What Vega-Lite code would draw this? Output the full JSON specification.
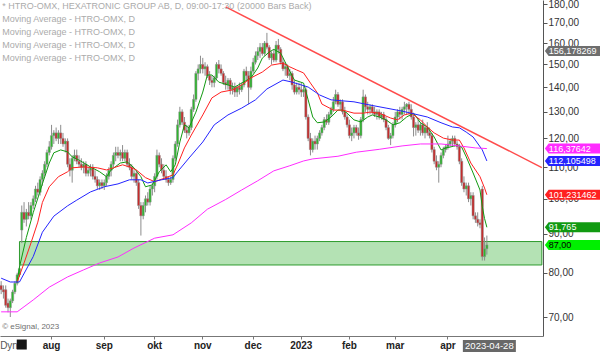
{
"$schema":"https://vega.github.io/schema/vega-lite/v6.json",
"width":543,"height":336,
"autosize":{"type":"none"},
"padding":{"left":0,"top":0,"right":57,"bottom":17},
"background":"white",
"config":{"font":"Liberation Sans","view":{"stroke":null},"axis":{"labelFont":"Liberation Sans","grid":false}},
"datasets":{
"candles":[
{"date":"2022-06-30","open":77,"high":78,"low":75,"close":76},
{"date":"2022-07-01","open":76,"high":77,"low":74,"close":75.5},
{"date":"2022-07-04","open":76,"high":77,"low":72,"close":72.5},
{"date":"2022-07-05","open":73,"high":74,"low":71,"close":72},
{"date":"2022-07-06","open":72,"high":74,"low":70,"close":73.5},
{"date":"2022-07-07","open":73.5,"high":76,"low":73,"close":75.5},
{"date":"2022-07-08","open":75.5,"high":78,"low":75,"close":77.5},
{"date":"2022-07-11","open":77.5,"high":80,"low":77,"close":79.5},
{"date":"2022-07-12","open":79.5,"high":82,"low":79,"close":81},
{"date":"2022-07-13","open":91,"high":98,"low":87.5,"close":96},
{"date":"2022-07-14","open":96,"high":99,"low":93,"close":94},
{"date":"2022-07-15","open":94,"high":97,"low":92,"close":96},
{"date":"2022-07-18","open":96,"high":99,"low":94,"close":95},
{"date":"2022-07-19","open":95,"high":99,"low":94,"close":98},
{"date":"2022-07-20","open":98,"high":101,"low":97,"close":100},
{"date":"2022-07-21","open":100,"high":104,"low":99,"close":103},
{"date":"2022-07-22","open":103,"high":105,"low":101,"close":102},
{"date":"2022-07-25","open":102,"high":107,"low":101,"close":106},
{"date":"2022-07-26","open":106,"high":109,"low":104,"close":108},
{"date":"2022-07-27","open":108,"high":112,"low":107,"close":111},
{"date":"2022-07-28","open":111,"high":116,"low":110,"close":115},
{"date":"2022-07-29","open":115,"high":119,"low":114,"close":117},
{"date":"2022-08-01","open":117,"high":125,"low":116,"close":121},
{"date":"2022-08-02","open":121,"high":123,"low":118,"close":122},
{"date":"2022-08-03","open":122,"high":124,"low":119,"close":120},
{"date":"2022-08-04","open":120,"high":123,"low":118,"close":122},
{"date":"2022-08-05","open":122,"high":125,"low":118,"close":120},
{"date":"2022-08-08","open":120,"high":122,"low":117,"close":118},
{"date":"2022-08-09","open":118,"high":120,"low":115,"close":119},
{"date":"2022-08-10","open":119,"high":120,"low":110,"close":111},
{"date":"2022-08-11","open":111,"high":113,"low":107,"close":109},
{"date":"2022-08-12","open":109,"high":114,"low":105,"close":113},
{"date":"2022-08-15","open":113,"high":116,"low":112,"close":114},
{"date":"2022-08-16","open":114,"high":116,"low":111,"close":112},
{"date":"2022-08-17","open":112,"high":114,"low":110,"close":111},
{"date":"2022-08-18","open":111,"high":113,"low":109,"close":110},
{"date":"2022-08-19","open":110,"high":112,"low":108,"close":111},
{"date":"2022-08-22","open":111,"high":112,"low":107,"close":108},
{"date":"2022-08-23","open":108,"high":110,"low":107,"close":109},
{"date":"2022-08-24","open":109,"high":111,"low":107,"close":110},
{"date":"2022-08-25","open":110,"high":111,"low":106,"close":107},
{"date":"2022-08-26","open":107,"high":109,"low":105,"close":106},
{"date":"2022-08-29","open":106,"high":107,"low":103,"close":104},
{"date":"2022-08-30","open":104,"high":106,"low":102.7,"close":105},
{"date":"2022-08-31","open":105,"high":106,"low":103,"close":104},
{"date":"2022-09-01","open":104,"high":106,"low":102.7,"close":105},
{"date":"2022-09-02","open":105,"high":108,"low":104,"close":107},
{"date":"2022-09-05","open":107,"high":110,"low":106,"close":109},
{"date":"2022-09-06","open":109,"high":112,"low":107,"close":111},
{"date":"2022-09-07","open":111,"high":115,"low":110,"close":114},
{"date":"2022-09-08","open":114,"high":117,"low":112,"close":115},
{"date":"2022-09-09","open":115,"high":117,"low":113,"close":114},
{"date":"2022-09-12","open":114,"high":116,"low":112,"close":115},
{"date":"2022-09-13","open":115,"high":117.6,"low":112,"close":113},
{"date":"2022-09-14","open":113,"high":116,"low":112,"close":115},
{"date":"2022-09-15","open":115,"high":116,"low":110,"close":111},
{"date":"2022-09-16","open":111,"high":113,"low":109,"close":110},
{"date":"2022-09-19","open":110,"high":111,"low":106,"close":107},
{"date":"2022-09-20","open":107,"high":109,"low":105,"close":108},
{"date":"2022-09-21","open":108,"high":109,"low":104,"close":105},
{"date":"2022-09-22","open":105,"high":106,"low":97,"close":98},
{"date":"2022-09-23","open":98,"high":99,"low":89.5,"close":95},
{"date":"2022-09-26","open":95,"high":99,"low":94,"close":98},
{"date":"2022-09-27","open":98,"high":101,"low":96,"close":100},
{"date":"2022-09-28","open":100,"high":102,"low":98,"close":99},
{"date":"2022-09-29","open":99,"high":104,"low":98,"close":103},
{"date":"2022-09-30","open":103,"high":105,"low":101,"close":104},
{"date":"2022-10-03","open":104,"high":108,"low":102,"close":107},
{"date":"2022-10-04","open":107,"high":116,"low":106,"close":114},
{"date":"2022-10-05","open":114,"high":115,"low":110,"close":111},
{"date":"2022-10-06","open":111,"high":113,"low":108,"close":109},
{"date":"2022-10-07","open":109,"high":111,"low":106,"close":107},
{"date":"2022-10-10","open":107,"high":109,"low":105,"close":106},
{"date":"2022-10-11","open":106,"high":107,"low":104,"close":105},
{"date":"2022-10-12","open":105,"high":107,"low":104.3,"close":106},
{"date":"2022-10-13","open":106,"high":114,"low":105,"close":113},
{"date":"2022-10-14","open":113,"high":119,"low":112,"close":118},
{"date":"2022-10-17","open":118,"high":127,"low":117,"close":125},
{"date":"2022-10-18","open":125,"high":132,"low":124,"close":130},
{"date":"2022-10-19","open":130,"high":131,"low":125,"close":126},
{"date":"2022-10-20","open":126,"high":128,"low":122,"close":123},
{"date":"2022-10-21","open":123,"high":125,"low":120,"close":122},
{"date":"2022-10-24","open":122,"high":125,"low":121,"close":124},
{"date":"2022-10-25","open":124,"high":132,"low":123,"close":131},
{"date":"2022-10-26","open":131,"high":137,"low":130,"close":135},
{"date":"2022-10-27","open":135,"high":147,"low":134,"close":146},
{"date":"2022-10-28","open":146,"high":150,"low":143,"close":148},
{"date":"2022-10-31","open":148,"high":154,"low":146,"close":150},
{"date":"2022-11-01","open":150,"high":153,"low":146,"close":148},
{"date":"2022-11-02","open":148,"high":151,"low":145,"close":149},
{"date":"2022-11-03","open":149,"high":150,"low":144,"close":145},
{"date":"2022-11-04","open":145,"high":147,"low":141,"close":143},
{"date":"2022-11-07","open":143,"high":145,"low":140,"close":142},
{"date":"2022-11-08","open":142,"high":145,"low":140,"close":144},
{"date":"2022-11-09","open":144,"high":151,"low":143,"close":150},
{"date":"2022-11-10","open":150,"high":152,"low":146,"close":148},
{"date":"2022-11-11","open":148,"high":150,"low":145,"close":146},
{"date":"2022-11-14","open":146,"high":147,"low":141,"close":142},
{"date":"2022-11-15","open":142,"high":145,"low":139,"close":141},
{"date":"2022-11-16","open":141,"high":144,"low":139,"close":143},
{"date":"2022-11-17","open":143,"high":144,"low":137,"close":139},
{"date":"2022-11-18","open":139,"high":142,"low":137,"close":140},
{"date":"2022-11-21","open":140,"high":142,"low":136,"close":138},
{"date":"2022-11-22","open":138,"high":141,"low":136,"close":140},
{"date":"2022-11-23","open":140,"high":142,"low":137,"close":139},
{"date":"2022-11-24","open":139,"high":142,"low":138,"close":141},
{"date":"2022-11-25","open":141,"high":148,"low":140,"close":147},
{"date":"2022-11-28","open":147,"high":149,"low":143,"close":145},
{"date":"2022-11-29","open":145,"high":147,"low":133,"close":140},
{"date":"2022-11-30","open":140,"high":149,"low":139,"close":147},
{"date":"2022-12-01","open":147,"high":153,"low":146,"close":151},
{"date":"2022-12-02","open":151,"high":156,"low":150,"close":154},
{"date":"2022-12-05","open":154,"high":158,"low":152,"close":156},
{"date":"2022-12-06","open":156,"high":160,"low":153,"close":158},
{"date":"2022-12-07","open":158,"high":160,"low":154,"close":155},
{"date":"2022-12-08","open":155,"high":161,"low":154,"close":160},
{"date":"2022-12-09","open":160,"high":165,"low":157,"close":158},
{"date":"2022-12-12","open":158,"high":159,"low":152,"close":153},
{"date":"2022-12-13","open":153,"high":156,"low":150,"close":155},
{"date":"2022-12-14","open":155,"high":157,"low":151,"close":152},
{"date":"2022-12-15","open":152,"high":161,"low":151,"close":159},
{"date":"2022-12-16","open":159,"high":162,"low":155,"close":157},
{"date":"2022-12-19","open":157,"high":158,"low":150,"close":151},
{"date":"2022-12-20","open":151,"high":153,"low":147,"close":148},
{"date":"2022-12-21","open":148,"high":151,"low":145,"close":149},
{"date":"2022-12-22","open":149,"high":150,"low":144,"close":145},
{"date":"2022-12-23","open":145,"high":148,"low":143,"close":146},
{"date":"2022-12-27","open":146,"high":147,"low":139,"close":141},
{"date":"2022-12-28","open":141,"high":143,"low":137,"close":138},
{"date":"2022-12-29","open":138,"high":142,"low":137,"close":140},
{"date":"2022-12-30","open":140,"high":142,"low":137,"close":139},
{"date":"2023-01-02","open":139,"high":142,"low":136,"close":138},
{"date":"2023-01-03","open":138,"high":141,"low":136,"close":139},
{"date":"2023-01-04","open":139,"high":140,"low":127,"close":128},
{"date":"2023-01-05","open":128,"high":129,"low":119,"close":120},
{"date":"2023-01-09","open":120,"high":122,"low":114,"close":116},
{"date":"2023-01-10","open":116,"high":120,"low":115,"close":119},
{"date":"2023-01-11","open":119,"high":121,"low":116,"close":118},
{"date":"2023-01-12","open":118,"high":121,"low":116,"close":120},
{"date":"2023-01-13","open":120,"high":123,"low":119,"close":122},
{"date":"2023-01-16","open":122,"high":125,"low":121,"close":124},
{"date":"2023-01-17","open":124,"high":128,"low":123,"close":127},
{"date":"2023-01-18","open":127,"high":129,"low":125,"close":126},
{"date":"2023-01-19","open":126,"high":130,"low":125,"close":129},
{"date":"2023-01-20","open":129,"high":132,"low":128,"close":131},
{"date":"2023-01-23","open":131,"high":136,"low":130,"close":134},
{"date":"2023-01-24","open":134,"high":139,"low":133,"close":137},
{"date":"2023-01-25","open":137,"high":138,"low":132,"close":133},
{"date":"2023-01-26","open":133,"high":135,"low":131,"close":134},
{"date":"2023-01-27","open":134,"high":135,"low":129,"close":130},
{"date":"2023-01-30","open":130,"high":132,"low":127,"close":128},
{"date":"2023-01-31","open":128,"high":129,"low":124,"close":125},
{"date":"2023-02-01","open":125,"high":127,"low":120,"close":121},
{"date":"2023-02-02","open":121,"high":124,"low":119,"close":122},
{"date":"2023-02-03","open":122,"high":125,"low":120,"close":124},
{"date":"2023-02-06","open":124,"high":125,"low":121,"close":122},
{"date":"2023-02-07","open":122,"high":124,"low":119.5,"close":121},
{"date":"2023-02-08","open":121,"high":128,"low":120,"close":127},
{"date":"2023-02-09","open":127,"high":139,"low":126,"close":136},
{"date":"2023-02-10","open":136,"high":137,"low":130,"close":132},
{"date":"2023-02-13","open":132,"high":134,"low":129,"close":131},
{"date":"2023-02-14","open":131,"high":133,"low":129,"close":132},
{"date":"2023-02-15","open":132,"high":133,"low":129,"close":130},
{"date":"2023-02-16","open":130,"high":132,"low":128,"close":129},
{"date":"2023-02-17","open":129,"high":131,"low":127,"close":130},
{"date":"2023-02-20","open":130,"high":131,"low":127,"close":128},
{"date":"2023-02-21","open":128,"high":130,"low":127,"close":129},
{"date":"2023-02-22","open":129,"high":130,"low":126,"close":127},
{"date":"2023-02-23","open":127,"high":128,"low":123,"close":124},
{"date":"2023-02-24","open":124,"high":125,"low":119.5,"close":120},
{"date":"2023-02-27","open":120,"high":122,"low":117.6,"close":121},
{"date":"2023-02-28","open":121,"high":126,"low":120,"close":125},
{"date":"2023-03-01","open":125,"high":130,"low":124,"close":128},
{"date":"2023-03-02","open":128,"high":131,"low":126,"close":130},
{"date":"2023-03-03","open":130,"high":132,"low":127,"close":129},
{"date":"2023-03-06","open":129,"high":132,"low":127,"close":131},
{"date":"2023-03-07","open":131,"high":134,"low":129,"close":132},
{"date":"2023-03-08","open":132,"high":133.5,"low":129,"close":133},
{"date":"2023-03-09","open":133,"high":134,"low":129,"close":131},
{"date":"2023-03-10","open":131,"high":133,"low":127,"close":128},
{"date":"2023-03-13","open":128,"high":129,"low":120.7,"close":124},
{"date":"2023-03-14","open":124,"high":126,"low":121,"close":125},
{"date":"2023-03-15","open":125,"high":127,"low":122,"close":123},
{"date":"2023-03-16","open":123,"high":126,"low":121,"close":125},
{"date":"2023-03-17","open":125,"high":127,"low":121,"close":122},
{"date":"2023-03-20","open":122,"high":125,"low":120,"close":124},
{"date":"2023-03-21","open":124,"high":126,"low":121,"close":122},
{"date":"2023-03-22","open":122,"high":124,"low":120,"close":121},
{"date":"2023-03-23","open":121,"high":122,"low":115,"close":116},
{"date":"2023-03-24","open":116,"high":117,"low":111,"close":112},
{"date":"2023-03-27","open":112,"high":114,"low":109,"close":110},
{"date":"2023-03-28","open":110,"high":112,"low":105,"close":111},
{"date":"2023-03-29","open":111,"high":115,"low":110,"close":114},
{"date":"2023-03-30","open":114,"high":117,"low":113,"close":116},
{"date":"2023-03-31","open":116,"high":118,"low":115,"close":117},
{"date":"2023-04-03","open":117,"high":121,"low":116,"close":118},
{"date":"2023-04-04","open":118,"high":120,"low":117,"close":119},
{"date":"2023-04-05","open":119,"high":121,"low":117,"close":120},
{"date":"2023-04-06","open":120,"high":121,"low":117,"close":118},
{"date":"2023-04-11","open":118,"high":119,"low":116,"close":117},
{"date":"2023-04-12","open":117,"high":118,"low":111,"close":112},
{"date":"2023-04-13","open":112,"high":113,"low":104,"close":105},
{"date":"2023-04-14","open":105,"high":107,"low":102,"close":103},
{"date":"2023-04-17","open":103,"high":105,"low":101,"close":104},
{"date":"2023-04-18","open":104,"high":105,"low":99,"close":100},
{"date":"2023-04-19","open":100,"high":102,"low":98,"close":101},
{"date":"2023-04-20","open":101,"high":102,"low":94,"close":95},
{"date":"2023-04-21","open":95,"high":96,"low":93,"close":94},
{"date":"2023-04-24","open":94,"high":96,"low":92,"close":93},
{"date":"2023-04-25","open":93,"high":94,"low":91.5,"close":92.5},
{"date":"2023-04-26","open":103,"high":104,"low":83,"close":84},
{"date":"2023-04-27","open":84,"high":89,"low":83,"close":86},
{"date":"2023-04-28","open":86,"high":89.5,"low":84.5,"close":87}
],
"ma":[
{"series":"MA10","date":"2022-07-11","value":77.8},{"series":"MA10","date":"2022-07-12","value":81.4},{"series":"MA10","date":"2022-07-15","value":89.0},{"series":"MA10","date":"2022-07-20","value":95.9},{"series":"MA10","date":"2022-07-26","value":104.6},{"series":"MA10","date":"2022-07-29","value":111.4},{"series":"MA10","date":"2022-08-02","value":114.9},{"series":"MA10","date":"2022-08-05","value":115.9},{"series":"MA10","date":"2022-08-10","value":115.2},{"series":"MA10","date":"2022-08-12","value":113.5},{"series":"MA10","date":"2022-08-17","value":112.4},{"series":"MA10","date":"2022-08-24","value":110.1},{"series":"MA10","date":"2022-08-30","value":108.5},{"series":"MA10","date":"2022-09-02","value":106.9},{"series":"MA10","date":"2022-09-06","value":109.1},{"series":"MA10","date":"2022-09-12","value":111.4},{"series":"MA10","date":"2022-09-15","value":111.8},{"series":"MA10","date":"2022-09-20","value":109.8},{"series":"MA10","date":"2022-09-23","value":106.9},{"series":"MA10","date":"2022-09-27","value":103.7},{"series":"MA10","date":"2022-09-30","value":104.3},{"series":"MA10","date":"2022-10-05","value":108.5},{"series":"MA10","date":"2022-10-10","value":110.8},{"series":"MA10","date":"2022-10-12","value":108.5},{"series":"MA10","date":"2022-10-14","value":110.8},{"series":"MA10","date":"2022-10-18","value":118.7},{"series":"MA10","date":"2022-10-20","value":125.0},{"series":"MA10","date":"2022-10-24","value":123.9},{"series":"MA10","date":"2022-10-27","value":129.9},{"series":"MA10","date":"2022-11-01","value":138.0},{"series":"MA10","date":"2022-11-03","value":145.3},{"series":"MA10","date":"2022-11-07","value":145.3},{"series":"MA10","date":"2022-11-10","value":142.2},{"series":"MA10","date":"2022-11-16","value":141.0},{"series":"MA10","date":"2022-11-21","value":140.1},{"series":"MA10","date":"2022-11-24","value":141.8},{"series":"MA10","date":"2022-11-30","value":144.0},{"series":"MA10","date":"2022-12-05","value":148.4},{"series":"MA10","date":"2022-12-07","value":152.9},{"series":"MA10","date":"2022-12-12","value":155.7},{"series":"MA10","date":"2022-12-14","value":157.0},{"series":"MA10","date":"2022-12-19","value":155.2},{"series":"MA10","date":"2022-12-22","value":148.9},{"series":"MA10","date":"2022-12-28","value":143.1},{"series":"MA10","date":"2023-01-03","value":141.8},{"series":"MA10","date":"2023-01-05","value":134.8},{"series":"MA10","date":"2023-01-10","value":128.0},{"series":"MA10","date":"2023-01-12","value":125.8},{"series":"MA10","date":"2023-01-17","value":126.1},{"series":"MA10","date":"2023-01-20","value":128.0},{"series":"MA10","date":"2023-01-25","value":130.7},{"series":"MA10","date":"2023-01-27","value":130.7},{"series":"MA10","date":"2023-01-31","value":129.5},{"series":"MA10","date":"2023-02-03","value":126.9},{"series":"MA10","date":"2023-02-08","value":126.1},{"series":"MA10","date":"2023-02-13","value":128.0},{"series":"MA10","date":"2023-02-15","value":128.8},{"series":"MA10","date":"2023-02-20","value":128.0},{"series":"MA10","date":"2023-02-23","value":126.9},{"series":"MA10","date":"2023-02-28","value":125.0},{"series":"MA10","date":"2023-03-03","value":125.8},{"series":"MA10","date":"2023-03-08","value":128.0},{"series":"MA10","date":"2023-03-13","value":129.5},{"series":"MA10","date":"2023-03-16","value":125.8},{"series":"MA10","date":"2023-03-21","value":124.2},{"series":"MA10","date":"2023-03-24","value":120.5},{"series":"MA10","date":"2023-03-29","value":115.9},{"series":"MA10","date":"2023-03-31","value":116.6},{"series":"MA10","date":"2023-04-04","value":116.9},{"series":"MA10","date":"2023-04-11","value":117.6},{"series":"MA10","date":"2023-04-13","value":116.9},{"series":"MA10","date":"2023-04-17","value":113.5},{"series":"MA10","date":"2023-04-20","value":108.1},{"series":"MA10","date":"2023-04-25","value":102.7},{"series":"MA10","date":"2023-04-26","value":97.7},{"series":"MA10","date":"2023-04-27","value":94.2},{"series":"MA10","date":"2023-04-28","value":91.765},
{"series":"MA20","date":"2022-07-11","value":77.8},{"series":"MA20","date":"2022-07-14","value":82.4},{"series":"MA20","date":"2022-07-19","value":87.5},{"series":"MA20","date":"2022-07-22","value":93.2},{"series":"MA20","date":"2022-07-26","value":98.9},{"series":"MA20","date":"2022-07-29","value":103.7},{"series":"MA20","date":"2022-08-04","value":106.9},{"series":"MA20","date":"2022-08-10","value":108.5},{"series":"MA20","date":"2022-08-12","value":109.8},{"series":"MA20","date":"2022-08-19","value":110.1},{"series":"MA20","date":"2022-08-29","value":109.8},{"series":"MA20","date":"2022-09-02","value":109.1},{"series":"MA20","date":"2022-09-07","value":109.8},{"series":"MA20","date":"2022-09-13","value":110.8},{"series":"MA20","date":"2022-09-16","value":110.1},{"series":"MA20","date":"2022-09-21","value":109.1},{"series":"MA20","date":"2022-09-27","value":106.6},{"series":"MA20","date":"2022-10-03","value":105.3},{"series":"MA20","date":"2022-10-10","value":106.6},{"series":"MA20","date":"2022-10-13","value":107.5},{"series":"MA20","date":"2022-10-17","value":110.8},{"series":"MA20","date":"2022-10-20","value":116.6},{"series":"MA20","date":"2022-10-25","value":121.2},{"series":"MA20","date":"2022-11-01","value":128.8},{"series":"MA20","date":"2022-11-07","value":135.6},{"series":"MA20","date":"2022-11-11","value":138.0},{"series":"MA20","date":"2022-11-18","value":138.9},{"series":"MA20","date":"2022-11-24","value":141.0},{"series":"MA20","date":"2022-11-30","value":144.0},{"series":"MA20","date":"2022-12-07","value":146.6},{"series":"MA20","date":"2022-12-13","value":149.7},{"series":"MA20","date":"2022-12-20","value":150.6},{"series":"MA20","date":"2022-12-23","value":148.9},{"series":"MA20","date":"2022-12-29","value":147.5},{"series":"MA20","date":"2023-01-03","value":146.2},{"series":"MA20","date":"2023-01-09","value":141.8},{"series":"MA20","date":"2023-01-12","value":137.7},{"series":"MA20","date":"2023-01-16","value":133.1},{"series":"MA20","date":"2023-01-23","value":130.7},{"series":"MA20","date":"2023-01-27","value":130.7},{"series":"MA20","date":"2023-02-03","value":129.5},{"series":"MA20","date":"2023-02-09","value":129.5},{"series":"MA20","date":"2023-02-14","value":129.9},{"series":"MA20","date":"2023-02-20","value":129.5},{"series":"MA20","date":"2023-02-27","value":127.6},{"series":"MA20","date":"2023-03-02","value":126.9},{"series":"MA20","date":"2023-03-07","value":128.8},{"series":"MA20","date":"2023-03-10","value":129.5},{"series":"MA20","date":"2023-03-16","value":126.9},{"series":"MA20","date":"2023-03-21","value":124.2},{"series":"MA20","date":"2023-03-24","value":122.0},{"series":"MA20","date":"2023-03-30","value":120.1},{"series":"MA20","date":"2023-04-05","value":119.4},{"series":"MA20","date":"2023-04-12","value":119.4},{"series":"MA20","date":"2023-04-14","value":116.6},{"series":"MA20","date":"2023-04-19","value":111.4},{"series":"MA20","date":"2023-04-25","value":106.9},{"series":"MA20","date":"2023-04-27","value":103.3},{"series":"MA20","date":"2023-04-28","value":101.231},
{"series":"MA50","date":"2022-06-30","value":78.7},{"series":"MA50","date":"2022-07-06","value":77.8},{"series":"MA50","date":"2022-07-12","value":77.8},{"series":"MA50","date":"2022-07-20","value":84.0},{"series":"MA50","date":"2022-07-26","value":90.4},{"series":"MA50","date":"2022-08-02","value":94.9},{"series":"MA50","date":"2022-08-10","value":97.9},{"series":"MA50","date":"2022-08-16","value":99.6},{"series":"MA50","date":"2022-08-24","value":102.1},{"series":"MA50","date":"2022-09-01","value":103.7},{"series":"MA50","date":"2022-09-09","value":104.6},{"series":"MA50","date":"2022-09-16","value":105.9},{"series":"MA50","date":"2022-09-23","value":105.9},{"series":"MA50","date":"2022-09-28","value":104.9},{"series":"MA50","date":"2022-10-06","value":105.9},{"series":"MA50","date":"2022-10-13","value":106.6},{"series":"MA50","date":"2022-10-17","value":108.5},{"series":"MA50","date":"2022-10-24","value":113.1},{"series":"MA50","date":"2022-11-01","value":118.7},{"series":"MA50","date":"2022-11-08","value":125.0},{"series":"MA50","date":"2022-11-16","value":128.8},{"series":"MA50","date":"2022-11-24","value":131.5},{"series":"MA50","date":"2022-12-02","value":134.8},{"series":"MA50","date":"2022-12-09","value":139.3},{"series":"MA50","date":"2022-12-20","value":143.1},{"series":"MA50","date":"2022-12-27","value":142.2},{"series":"MA50","date":"2023-01-05","value":140.1},{"series":"MA50","date":"2023-01-13","value":136.8},{"series":"MA50","date":"2023-01-20","value":134.8},{"series":"MA50","date":"2023-02-03","value":134.0},{"series":"MA50","date":"2023-02-14","value":132.7},{"series":"MA50","date":"2023-02-23","value":131.5},{"series":"MA50","date":"2023-03-06","value":130.3},{"series":"MA50","date":"2023-03-21","value":128.0},{"series":"MA50","date":"2023-03-29","value":125.8},{"series":"MA50","date":"2023-04-05","value":124.2},{"series":"MA50","date":"2023-04-12","value":123.9},{"series":"MA50","date":"2023-04-17","value":122.3},{"series":"MA50","date":"2023-04-20","value":120.5},{"series":"MA50","date":"2023-04-26","value":115.9},{"series":"MA50","date":"2023-04-28","value":112.105},
{"series":"MA200","date":"2022-06-30","value":71.1},{"series":"MA200","date":"2022-07-11","value":71.1},{"series":"MA200","date":"2022-07-14","value":72.2},{"series":"MA200","date":"2022-07-20","value":73.7},{"series":"MA200","date":"2022-07-29","value":76.6},{"series":"MA200","date":"2022-08-10","value":79.0},{"series":"MA200","date":"2022-08-19","value":80.7},{"series":"MA200","date":"2022-08-30","value":82.4},{"series":"MA200","date":"2022-09-09","value":83.9},{"series":"MA200","date":"2022-09-20","value":86.2},{"series":"MA200","date":"2022-10-03","value":88.8},{"series":"MA200","date":"2022-10-13","value":89.7},{"series":"MA200","date":"2022-10-25","value":93.0},{"series":"MA200","date":"2022-11-03","value":96.9},{"series":"MA200","date":"2022-11-15","value":99.8},{"series":"MA200","date":"2022-11-24","value":102.7},{"series":"MA200","date":"2022-12-05","value":105.6},{"series":"MA200","date":"2022-12-14","value":108.8},{"series":"MA200","date":"2022-12-23","value":110.5},{"series":"MA200","date":"2023-01-03","value":112.1},{"series":"MA200","date":"2023-01-10","value":112.8},{"series":"MA200","date":"2023-01-25","value":113.7},{"series":"MA200","date":"2023-02-06","value":115.1},{"series":"MA200","date":"2023-02-20","value":116.1},{"series":"MA200","date":"2023-03-06","value":117.3},{"series":"MA200","date":"2023-03-16","value":118.0},{"series":"MA200","date":"2023-03-29","value":118.0},{"series":"MA200","date":"2023-04-12","value":117.3},{"series":"MA200","date":"2023-04-21","value":116.6},{"series":"MA200","date":"2023-04-28","value":116.376}
],
"flags":[
{"series":"extra","value":156.178269,"label":"156,178269"},
{"series":"MA200","value":116.37642,"label":"116,37642"},
{"series":"MA50","value":112.105498,"label":"112,105498"},
{"series":"MA20","value":101.231462,"label":"101,231462"},
{"series":"MA10","value":91.765,"label":"91,765"},
{"series":"last","value":87,"label":"87,00"}
]
},
"encoding":{
"x":{"field":"date","type":"ordinal","title":null,
"scale":{"paddingInner":0,"paddingOuter":0,"domain":["2022-06-30","2022-07-01","2022-07-04","2022-07-05","2022-07-06","2022-07-07","2022-07-08","2022-07-11","2022-07-12","2022-07-13","2022-07-14","2022-07-15","2022-07-18","2022-07-19","2022-07-20","2022-07-21","2022-07-22","2022-07-25","2022-07-26","2022-07-27","2022-07-28","2022-07-29","2022-08-01","2022-08-02","2022-08-03","2022-08-04","2022-08-05","2022-08-08","2022-08-09","2022-08-10","2022-08-11","2022-08-12","2022-08-15","2022-08-16","2022-08-17","2022-08-18","2022-08-19","2022-08-22","2022-08-23","2022-08-24","2022-08-25","2022-08-26","2022-08-29","2022-08-30","2022-08-31","2022-09-01","2022-09-02","2022-09-05","2022-09-06","2022-09-07","2022-09-08","2022-09-09","2022-09-12","2022-09-13","2022-09-14","2022-09-15","2022-09-16","2022-09-19","2022-09-20","2022-09-21","2022-09-22","2022-09-23","2022-09-26","2022-09-27","2022-09-28","2022-09-29","2022-09-30","2022-10-03","2022-10-04","2022-10-05","2022-10-06","2022-10-07","2022-10-10","2022-10-11","2022-10-12","2022-10-13","2022-10-14","2022-10-17","2022-10-18","2022-10-19","2022-10-20","2022-10-21","2022-10-24","2022-10-25","2022-10-26","2022-10-27","2022-10-28","2022-10-31","2022-11-01","2022-11-02","2022-11-03","2022-11-04","2022-11-07","2022-11-08","2022-11-09","2022-11-10","2022-11-11","2022-11-14","2022-11-15","2022-11-16","2022-11-17","2022-11-18","2022-11-21","2022-11-22","2022-11-23","2022-11-24","2022-11-25","2022-11-28","2022-11-29","2022-11-30","2022-12-01","2022-12-02","2022-12-05","2022-12-06","2022-12-07","2022-12-08","2022-12-09","2022-12-12","2022-12-13","2022-12-14","2022-12-15","2022-12-16","2022-12-19","2022-12-20","2022-12-21","2022-12-22","2022-12-23","2022-12-27","2022-12-28","2022-12-29","2022-12-30","2023-01-02","2023-01-03","2023-01-04","2023-01-05","2023-01-09","2023-01-10","2023-01-11","2023-01-12","2023-01-13","2023-01-16","2023-01-17","2023-01-18","2023-01-19","2023-01-20","2023-01-23","2023-01-24","2023-01-25","2023-01-26","2023-01-27","2023-01-30","2023-01-31","2023-02-01","2023-02-02","2023-02-03","2023-02-06","2023-02-07","2023-02-08","2023-02-09","2023-02-10","2023-02-13","2023-02-14","2023-02-15","2023-02-16","2023-02-17","2023-02-20","2023-02-21","2023-02-22","2023-02-23","2023-02-24","2023-02-27","2023-02-28","2023-03-01","2023-03-02","2023-03-03","2023-03-06","2023-03-07","2023-03-08","2023-03-09","2023-03-10","2023-03-13","2023-03-14","2023-03-15","2023-03-16","2023-03-17","2023-03-20","2023-03-21","2023-03-22","2023-03-23","2023-03-24","2023-03-27","2023-03-28","2023-03-29","2023-03-30","2023-03-31","2023-04-03","2023-04-04","2023-04-05","2023-04-06","2023-04-11","2023-04-12","2023-04-13","2023-04-14","2023-04-17","2023-04-18","2023-04-19","2023-04-20","2023-04-21","2023-04-24","2023-04-25","2023-04-26","2023-04-27","2023-04-28","2023-05-02","2023-05-03","2023-05-04","2023-05-05","2023-05-08","2023-05-09","2023-05-10","2023-05-11","2023-05-12","2023-05-15","2023-05-16","2023-05-17","2023-05-19","2023-05-22","2023-05-23","2023-05-24","2023-05-25","2023-05-26","2023-05-29","2023-05-30","2023-05-31","2023-06-01","2023-06-02","2023-06-05"]},
"axis":{"orient":"bottom","values":["2022-08-01","2022-09-01","2022-10-03","2022-11-01","2022-12-01","2023-01-02","2023-02-01","2023-03-01","2023-04-03"],
"labelExpr":"slice(datum.value,5,7)=='01' ? slice(datum.value,0,4) : ['jan','feb','mar','apr','maj','jun','jul','aug','sep','okt','nov','dec'][toNumber(slice(datum.value,5,7))-1]",
"labelAngle":0,"labelFontWeight":"bold","labelFontSize":10,"labelColor":"#222222","labelPadding":1,"tickSize":3,"tickColor":"#777777","domainColor":"#777777","title":null}}
},
"layer":[
{"data":{"values":[{"start":"2022-07-12","end":"2023-06-05","low":81.9,"high":87.9}]},
 "mark":{"type":"rect","fill":"#b4e2b4","stroke":"#2e9b2e","strokeWidth":1},
 "encoding":{"x":{"field":"start","type":"ordinal"},"x2":{"field":"end"},
  "y":{"field":"low","type":"quantitative","scale":{"type":"log","domain":[66.1,182.2],"nice":false,"zero":false},
   "axis":{"orient":"right","values":[70,80,90,100,110,120,130,140,150,160,170,180],"labelExpr":"replace(format(datum.value,'.2f'),'.',',')","title":null,"tickSize":4,"tickColor":"#555555","domainColor":"#555555","labelFontSize":10,"labelColor":"#333333","labelPadding":1,"grid":false}},
  "y2":{"field":"high"}}},
{"data":{"name":"candles"},
 "mark":{"type":"rule","color":"#8c8c8c","strokeWidth":1},
 "encoding":{"y":{"field":"low","type":"quantitative","title":null,"scale":{"type":"log","domain":[66.1,182.2],"nice":false,"zero":false}},"y2":{"field":"high"}}},
{"data":{"name":"candles"},
 "mark":{"type":"bar","width":2.2,"stroke":"#8f8f8f","strokeWidth":0.5},
 "encoding":{"y":{"field":"open","type":"quantitative","title":null,"scale":{"type":"log","domain":[66.1,182.2],"nice":false,"zero":false}},"y2":{"field":"close"},
  "color":{"condition":{"test":"datum.close >= datum.open","value":"#2fb52f"},"value":"#c62a2a"}}},
{"data":{"name":"ma"},
 "mark":{"type":"line","strokeWidth":1},
 "encoding":{"y":{"field":"value","type":"quantitative","title":null,"scale":{"type":"log","domain":[66.1,182.2],"nice":false,"zero":false}},
  "color":{"field":"series","type":"nominal","legend":null,"scale":{"domain":["MA10","MA20","MA50","MA200","extra","last"],"range":["#119a11","#ff2020","#2424ff","#ff2cff","#6e6e6e","#00f000"]}}}},
{"data":{"values":[{"date":"2022-11-15","value":178.4},{"date":"2023-06-05","value":109.9}]},
 "mark":{"type":"line","color":"#ff4b4b","strokeWidth":1.4},
 "encoding":{"y":{"field":"value","type":"quantitative","title":null,"scale":{"type":"log","domain":[66.1,182.2],"nice":false,"zero":false}}}},
{"data":{"name":"flags"},
 "mark":{"type":"point","shape":"M0.3,0 L0.68,-0.5 L6,-0.5 L6,0.5 L0.68,0.5 Z","size":400,"filled":true,"opacity":1,"strokeWidth":0},
 "encoding":{"x":{"datum":"2023-06-05","type":"ordinal"},
  "y":{"field":"value","type":"quantitative","title":null,"scale":{"type":"log","domain":[66.1,182.2],"nice":false,"zero":false}},
  "color":{"field":"series","type":"nominal","legend":null}}},
{"data":{"name":"flags"},
 "mark":{"type":"text","align":"left","baseline":"middle","dx":7,"fontSize":9},
 "encoding":{"x":{"datum":"2023-06-05","type":"ordinal"},
  "y":{"field":"value","type":"quantitative","title":null,"scale":{"type":"log","domain":[66.1,182.2],"nice":false,"zero":false}},
  "text":{"field":"label"},
  "color":{"condition":{"test":"datum.series === 'last'","value":"#000000"},"value":"#ffffff"}}},
{"data":{"values":[{"label":"title"}]},
 "mark":{"type":"text","align":"left","baseline":"top","dx":1,"dy":2,"fontSize":9,"lineHeight":13,"color":"#ababab",
  "text":["* HTRO-OMX, HEXATRONIC GROUP AB, D, 09:00-17:30 (20000 Bars Back)","Moving Average - HTRO-OMX, D","Moving Average - HTRO-OMX, D","Moving Average - HTRO-OMX, D","Moving Average - HTRO-OMX, D"]},
 "encoding":{"x":{"datum":"2022-06-30","type":"ordinal"},"y":{"datum":182.2,"type":"quantitative","scale":{"type":"log","domain":[66.1,182.2],"nice":false,"zero":false}}}},
{"data":{"values":[{"label":"© eSignal, 2023"}]},
 "mark":{"type":"text","align":"left","baseline":"middle","dx":1,"fontSize":8,"color":"#6e6e6e"},
 "encoding":{"x":{"datum":"2022-06-30","type":"ordinal"},"y":{"datum":67.92,"type":"quantitative","scale":{"type":"log","domain":[66.1,182.2],"nice":false,"zero":false}},"text":{"field":"label"}}},
{"data":{"values":[{"label":"Dyn"}]},
 "mark":{"type":"text","align":"left","baseline":"middle","dx":-1,"fontSize":10,"color":"#555555"},
 "encoding":{"x":{"datum":"2022-06-30","type":"ordinal"},"y":{"datum":64.13,"type":"quantitative","scale":{"type":"log","domain":[66.1,182.2],"nice":false,"zero":false}},"text":{"field":"label"}}},
{"data":{"values":[{"label":"icon"}]},
 "mark":{"type":"point","shape":"square","size":100,"filled":true,"color":"#151515","opacity":1},
 "encoding":{"x":{"datum":"2022-07-13","type":"ordinal"},"y":{"datum":64.42,"type":"quantitative","scale":{"type":"log","domain":[66.1,182.2],"nice":false,"zero":false}}}},
{"data":{"values":[{"label":"2023-04-28"}]},
 "mark":{"type":"point","shape":"M-2.4,-0.6 L2.9,-0.6 L2.9,0.6 L-2.4,0.6 Z","size":400,"filled":true,"color":"#686868","opacity":1},
 "encoding":{"x":{"datum":"2023-04-28","type":"ordinal"},"y":{"datum":64.13,"type":"quantitative","scale":{"type":"log","domain":[66.1,182.2],"nice":false,"zero":false}}}},
{"data":{"values":[{"label":"2023-04-28"}]},
 "mark":{"type":"text","align":"center","baseline":"middle","dx":2.5,"fontSize":9.5,"color":"#ffffff"},
 "encoding":{"x":{"datum":"2023-04-28","type":"ordinal"},"y":{"datum":64.13,"type":"quantitative","scale":{"type":"log","domain":[66.1,182.2],"nice":false,"zero":false}},"text":{"field":"label"}}}
]
}
